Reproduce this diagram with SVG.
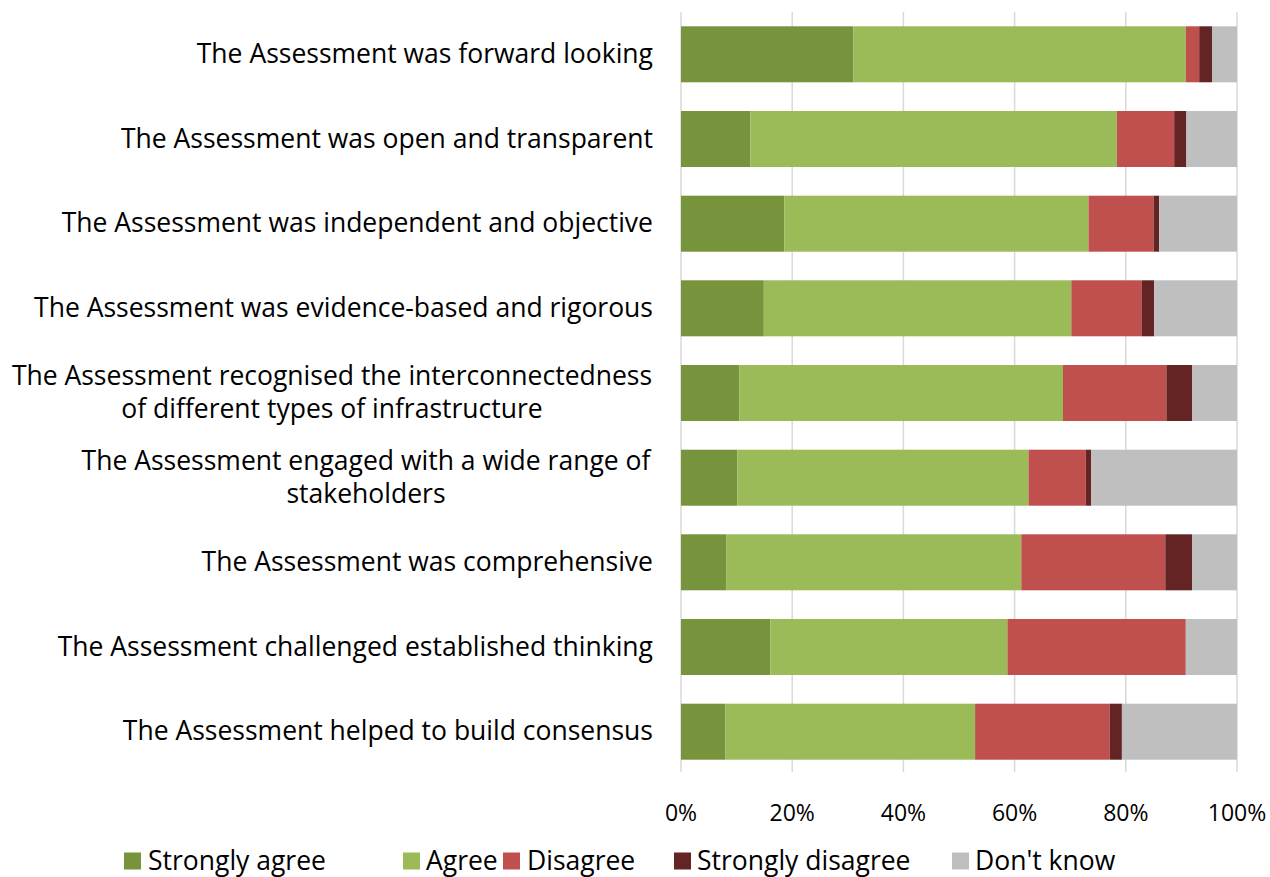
<svg xmlns="http://www.w3.org/2000/svg" width="1270" height="877" viewBox="0 0 1270 877">
<style>
text{font-family:"Open Sans","Liberation Sans",sans-serif;fill:#000}
.lbl{font-size:26.5px;text-anchor:end}
.lblc{font-size:26.5px;text-anchor:middle}
.ax{font-size:23px;text-anchor:middle}
.lg{font-size:26.5px}
.grid{stroke:#d9d9d9;stroke-width:1.5}
.sa{fill:#77933c}.ag{fill:#9bbb59}.di{fill:#c0504d}.sd{fill:#632423}.dk{fill:#bfbfbf}
</style>
<rect width="1270" height="877" fill="#fff"/>
<g id="gridlines">
<line class="grid" x1="681" y1="12" x2="681" y2="772"/>
<line class="grid" x1="792.2" y1="12" x2="792.2" y2="772"/>
<line class="grid" x1="903.4" y1="12" x2="903.4" y2="772"/>
<line class="grid" x1="1014.6" y1="12" x2="1014.6" y2="772"/>
<line class="grid" x1="1125.8" y1="12" x2="1125.8" y2="772"/>
<line class="grid" x1="1237" y1="12" x2="1237" y2="772"/>
</g>
<g id="row1">
<text class="lbl" x="653" y="63">The Assessment was forward looking</text>
<rect class="sa" x="681" y="26.3" width="172.4" height="56"/>
<rect class="ag" x="853.4" y="26.3" width="332.4" height="56"/>
<rect class="di" x="1185.8" y="26.3" width="13.4" height="56"/>
<rect class="sd" x="1199.2" y="26.3" width="12.8" height="56"/>
<rect class="dk" x="1212" y="26.3" width="25" height="56"/>
</g>
<g id="row2">
<text class="lbl" x="653" y="147.7">The Assessment was open and transparent</text>
<rect class="sa" x="681" y="111" width="69.5" height="56"/>
<rect class="ag" x="750.5" y="111" width="366.4" height="56"/>
<rect class="di" x="1116.9" y="111" width="57.3" height="56"/>
<rect class="sd" x="1174.2" y="111" width="12.2" height="56"/>
<rect class="dk" x="1186.4" y="111" width="50.6" height="56"/>
</g>
<g id="row3">
<text class="lbl" x="653" y="232.4">The Assessment was independent and objective</text>
<rect class="sa" x="681" y="195.7" width="103.4" height="56"/>
<rect class="ag" x="784.4" y="195.7" width="304.1" height="56"/>
<rect class="di" x="1088.5" y="195.7" width="65.1" height="56"/>
<rect class="sd" x="1153.6" y="195.7" width="5.6" height="56"/>
<rect class="dk" x="1159.2" y="195.7" width="77.8" height="56"/>
</g>
<g id="row4">
<text class="lbl" x="653" y="317">The Assessment was evidence-based and rigorous</text>
<rect class="sa" x="681" y="280.3" width="82.8" height="56"/>
<rect class="ag" x="763.8" y="280.3" width="307.5" height="56"/>
<rect class="di" x="1071.3" y="280.3" width="70.6" height="56"/>
<rect class="sd" x="1141.9" y="280.3" width="12.3" height="56"/>
<rect class="dk" x="1154.2" y="280.3" width="82.8" height="56"/>
</g>
<g id="row5">
<text class="lblc" x="332" y="385">The Assessment recognised the interconnectedness</text>
<text class="lblc" x="332" y="418">of different types of infrastructure</text>
<rect class="sa" x="681" y="365" width="58.4" height="56"/>
<rect class="ag" x="739.4" y="365" width="323.6" height="56"/>
<rect class="di" x="1063" y="365" width="103.4" height="56"/>
<rect class="sd" x="1166.4" y="365" width="25.6" height="56"/>
<rect class="dk" x="1192" y="365" width="45" height="56"/>
</g>
<g id="row6">
<text class="lblc" x="366" y="469.7">The Assessment engaged with a wide range of</text>
<text class="lblc" x="366" y="502.7">stakeholders</text>
<rect class="sa" x="681" y="449.7" width="56.2" height="56"/>
<rect class="ag" x="737.2" y="449.7" width="291.3" height="56"/>
<rect class="di" x="1028.5" y="449.7" width="57.3" height="56"/>
<rect class="sd" x="1085.8" y="449.7" width="5.5" height="56"/>
<rect class="dk" x="1091.3" y="449.7" width="145.7" height="56"/>
</g>
<g id="row7">
<text class="lbl" x="653" y="571">The Assessment was comprehensive</text>
<rect class="sa" x="681" y="534.3" width="45.6" height="56"/>
<rect class="ag" x="726.6" y="534.3" width="294.7" height="56"/>
<rect class="di" x="1021.3" y="534.3" width="144" height="56"/>
<rect class="sd" x="1165.3" y="534.3" width="26.7" height="56"/>
<rect class="dk" x="1192" y="534.3" width="45" height="56"/>
</g>
<g id="row8">
<text class="lbl" x="653" y="655.7">The Assessment challenged established thinking</text>
<rect class="sa" x="681" y="619" width="89.5" height="56"/>
<rect class="ag" x="770.5" y="619" width="236.9" height="56"/>
<rect class="di" x="1007.4" y="619" width="178.4" height="56"/>
<rect class="dk" x="1185.8" y="619" width="51.2" height="56"/>
</g>
<g id="row9">
<text class="lbl" x="653" y="740.4">The Assessment helped to build consensus</text>
<rect class="sa" x="681" y="703.7" width="44.5" height="56"/>
<rect class="ag" x="725.5" y="703.7" width="249.6" height="56"/>
<rect class="di" x="975.1" y="703.7" width="134.6" height="56"/>
<rect class="sd" x="1109.7" y="703.7" width="12.2" height="56"/>
<rect class="dk" x="1121.9" y="703.7" width="115.1" height="56"/>
</g>
<g id="axis">
<text class="ax" x="681" y="821">0%</text>
<text class="ax" x="792.2" y="821">20%</text>
<text class="ax" x="903.4" y="821">40%</text>
<text class="ax" x="1014.6" y="821">60%</text>
<text class="ax" x="1125.8" y="821">80%</text>
<text class="ax" x="1237" y="821">100%</text>
</g>
<g id="legend">
<rect class="sa" x="124" y="852.5" width="17" height="17"/>
<text class="lg" x="148" y="869.5">Strongly agree</text>
<rect class="ag" x="403" y="852.5" width="17" height="17"/>
<text class="lg" x="426" y="869.5">Agree</text>
<rect class="di" x="503" y="852.5" width="17" height="17"/>
<text class="lg" x="527" y="869.5">Disagree</text>
<rect class="sd" x="674" y="852.5" width="17" height="17"/>
<text class="lg" x="697" y="869.5">Strongly disagree</text>
<rect class="dk" x="952" y="852.5" width="17" height="17"/>
<text class="lg" x="975" y="869.5">Don't know</text>
</g>
</svg>
